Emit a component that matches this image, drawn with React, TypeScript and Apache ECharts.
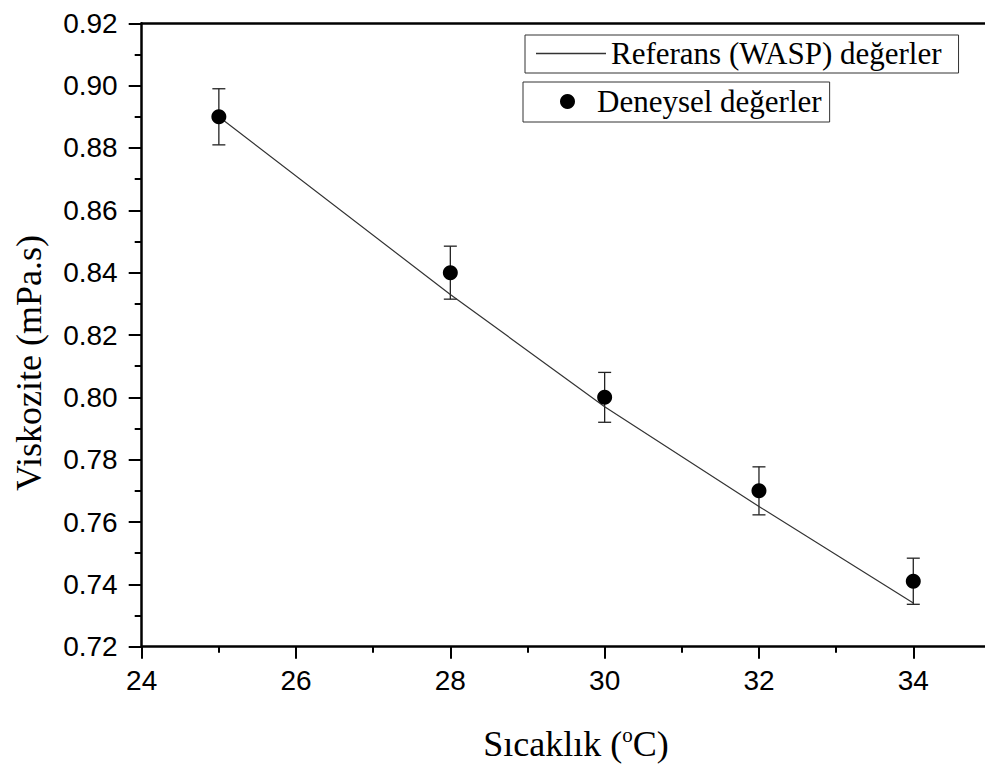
import React, { useEffect, useRef } from "react";
import * as echarts from "echarts";

// Data
const temps = [25, 28, 30, 32, 34];
const measured = [0.89, 0.84, 0.8, 0.77, 0.741];
const errors = [0.009, 0.0085, 0.008, 0.0077, 0.0074];
const refTemps = [25, 28, 30, 32, 34];
const refValues = [0.89, 0.833, 0.797, 0.765, 0.734];

const seriesRefName = "Referans (WASP) değerler";
const seriesExpName = "Deneysel değerler";
const yAxisTitle = "Viskozite (mPa.s)";
const xAxisTitle = "Sıcaklık ({sup|o}C)";

const SANS = "'Liberation Sans', Arial, sans-serif";
const SERIF = "'Liberation Serif', 'Times New Roman', serif";

export default function App() {
  const ref = useRef<HTMLDivElement>(null);

  useEffect(() => {
    if (!ref.current) return;
    const chart = echarts.init(ref.current, undefined, { renderer: "svg" });

    const errData = temps.map((t, i) => [t, measured[i] - errors[i], measured[i] + errors[i]]);

    const option: any = {
      animation: false,
      backgroundColor: "#fff",
      grid: {
        left: 141.7,
        top: 23.3,
        right: -82.6,
        bottom: 117.3,
        containLabel: false,
        outerBoundsMode: "none",
      },
      xAxis: [
        {
          type: "value",
          min: 24,
          max: 36,
          interval: 2,
          axisLine: { show: true, onZero: false, lineStyle: { color: "#000", width: 2.5 } },
          axisTick: { show: true, inside: false, length: 12, lineStyle: { color: "#000", width: 2 } },
          minorTick: { show: true, splitNumber: 2, length: 6, lineStyle: { color: "#000", width: 2 } },
          axisLabel: { color: "#000", fontFamily: SANS, fontSize: 28, margin: 20, showMaxLabel: false },
          splitLine: { show: false },
        },
        {
          type: "value",
          position: "top",
          min: 24,
          max: 36,
          interval: 2,
          axisLine: { show: true, onZero: false, lineStyle: { color: "#000", width: 2.5 } },
          axisTick: { show: false },
          axisLabel: { show: false },
          splitLine: { show: false },
        },
      ],
      yAxis: {
        type: "value",
        min: 0.72,
        max: 0.92,
        interval: 0.02,
        axisLine: { show: true, onZero: false, lineStyle: { color: "#000", width: 2.5 } },
        axisTick: { show: true, inside: false, length: 13, lineStyle: { color: "#000", width: 2 } },
        minorTick: { show: true, splitNumber: 2, length: 7, lineStyle: { color: "#000", width: 2 } },
        axisLabel: {
          color: "#000",
          fontFamily: SANS,
          fontSize: 28,
          margin: 24,
          formatter: (v: number) => v.toFixed(2),
        },
        splitLine: { show: false },
      },
      legend: [
        {
          left: 525,
          top: 35,
          orient: "horizontal",
          data: [{ name: seriesRefName, icon: "rect" }],
          itemWidth: 70,
          itemHeight: 1.3,
          itemGap: 0,
          padding: [3, 17, 4, 11],
          borderColor: "#333",
          borderWidth: 1,
          selectedMode: false,
          textStyle: { color: "#000", fontFamily: SERIF, fontSize: 31, lineHeight: 31 },
        },
        {
          left: 523,
          top: 82,
          orient: "horizontal",
          data: [{ name: seriesExpName, icon: "circle" }],
          itemWidth: 15,
          itemHeight: 15,
          padding: [4, 8, 5, 37],
          borderColor: "#333",
          borderWidth: 1,
          selectedMode: false,
          textStyle: { color: "#000", fontFamily: SERIF, fontSize: 31, lineHeight: 31, padding: [0, 0, 0, 17] },
        },
      ],
      graphic: [
        {
          type: "text",
          x: 576,
          y: 744,
          style: {
            text: xAxisTitle,
            align: "center",
            verticalAlign: "middle",
            fill: "#000",
            fontFamily: SERIF,
            fontSize: 36,
            lineHeight: 40,
            rich: {
              sup: { fontSize: 21, fontFamily: SERIF, verticalAlign: "top", fill: "#000", lineHeight: 40 },
            },
          },
        },
        {
          type: "text",
          x: 29,
          y: 363,
          rotation: Math.PI / 2,
          style: {
            text: yAxisTitle,
            align: "center",
            verticalAlign: "middle",
            fill: "#000",
            fontFamily: SERIF,
            fontSize: 36,
          },
        },
      ],
      series: [
        {
          name: "errorbars",
          type: "custom",
          data: errData,
          z: 2,
          silent: true,
          renderItem: (params: any, api: any) => {
            const x = api.value(0);
            const lo = api.coord([x, api.value(1)]);
            const hi = api.coord([x, api.value(2)]);
            const hw = 6.5;
            const st = { stroke: "#222", lineWidth: 1.3 };
            return {
              type: "group",
              children: [
                { type: "line", shape: { x1: hi[0], y1: hi[1], x2: lo[0], y2: lo[1] }, style: st },
                { type: "line", shape: { x1: hi[0] - hw, y1: hi[1], x2: hi[0] + hw, y2: hi[1] }, style: st },
                { type: "line", shape: { x1: lo[0] - hw, y1: lo[1], x2: lo[0] + hw, y2: lo[1] }, style: st },
              ],
            };
          },
        },
        {
          name: seriesRefName,
          type: "line",
          data: refTemps.map((t, i) => [t, refValues[i]]),
          showSymbol: false,
          symbol: "none",
          lineStyle: { color: "#333", width: 1.2 },
          itemStyle: { color: "#333" },
          z: 3,
        },
        {
          name: seriesExpName,
          type: "scatter",
          data: temps.map((t, i) => [t, measured[i]]),
          symbol: "circle",
          symbolSize: 15,
          itemStyle: { color: "#000", opacity: 1 },
          z: 4,
        },
      ],
    };

    chart.setOption(option);
    return () => chart.dispose();
  }, []);

  return (
    <div style={{ position: "absolute", left: 0, top: 0, width: 985, height: 764, overflow: "hidden", background: "#fff" }}>
      <div ref={ref} style={{ width: 985, height: 764 }} />
    </div>
  );
}
